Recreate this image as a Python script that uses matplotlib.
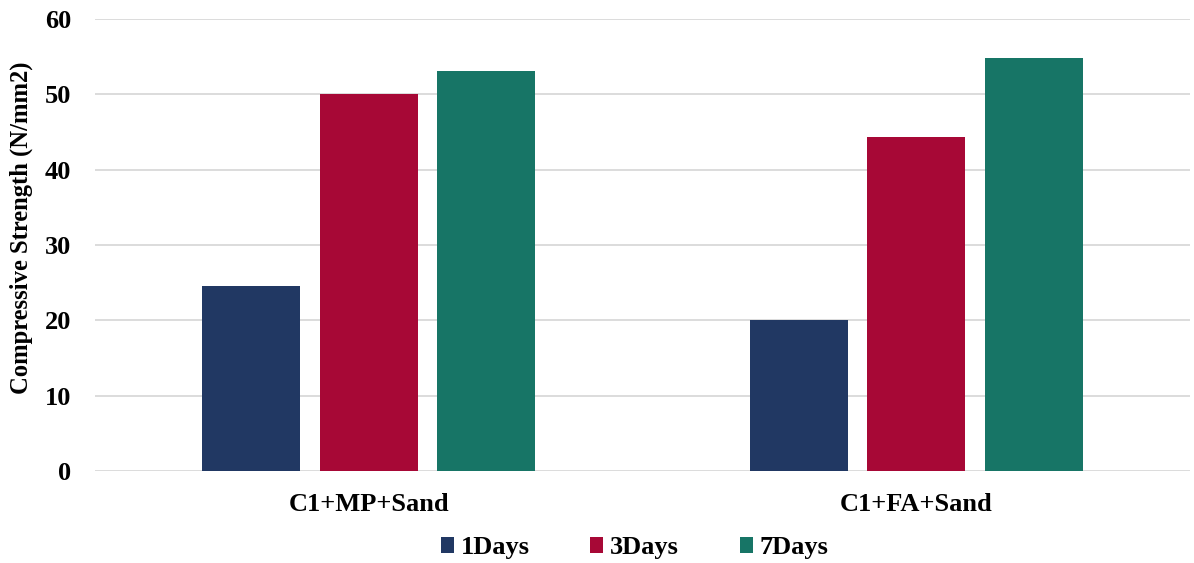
import matplotlib.pyplot as plt
import numpy as np

categories = ["C1+MP+Sand", "C1+FA+Sand"]
series_names = ["1Days", "3Days", "7Days"]
day1 = [24.5, 20.0]
day3 = [50.0, 44.3]
day7 = [53.1, 54.8]
colors = ["#213863", "#A70836", "#177566"]
yticks = [0, 10, 20, 30, 40, 50, 60]

plt.rcParams["font.family"] = ["Liberation Serif", "DejaVu Serif"]
plt.rcParams["font.weight"] = "bold"

fig = plt.figure(figsize=(11.94, 5.63), dpi=100)
ax = fig.add_axes([0.0796, 0.1634, 0.917, 0.8029])

x = np.arange(len(categories))
width = 0.179
step = 0.2146
for i, (vals, name, c) in enumerate(zip([day1, day3, day7], series_names, colors)):
    ax.bar(x + (i - 1) * step, vals, width, color=c, label=name, zorder=3)

ax.set_xlim(-0.5, 1.5)
ax.set_ylim(0, 60)
ax.set_yticks(yticks)
ax.set_yticklabels([str(t) for t in yticks], fontsize=19, fontweight="bold")
ax.set_xticks(x)
ax.set_xticklabels(categories, fontsize=19, fontweight="bold")
ax.tick_params(axis="both", length=0)
ax.tick_params(axis="y", pad=17)
ax.tick_params(axis="x", pad=16)
ax.yaxis.grid(True, color="#D9D9D9", linewidth=1.3, zorder=0)
for s in ax.spines.values():
    s.set_visible(False)

ax.set_ylabel("Compressive Strength (N/mm2)", fontsize=17.7, fontweight="bold")
ax.yaxis.set_label_coords(-0.0566, 0.538)

ax.legend(loc="center", bbox_to_anchor=(0.4927, -0.17), ncol=3, frameon=False,
          prop={"size": 19, "weight": "bold"}, handlelength=0.5, handleheight=0.5,
          handletextpad=0.25, columnspacing=2.3)

fig.savefig("out.png", dpi=100)
